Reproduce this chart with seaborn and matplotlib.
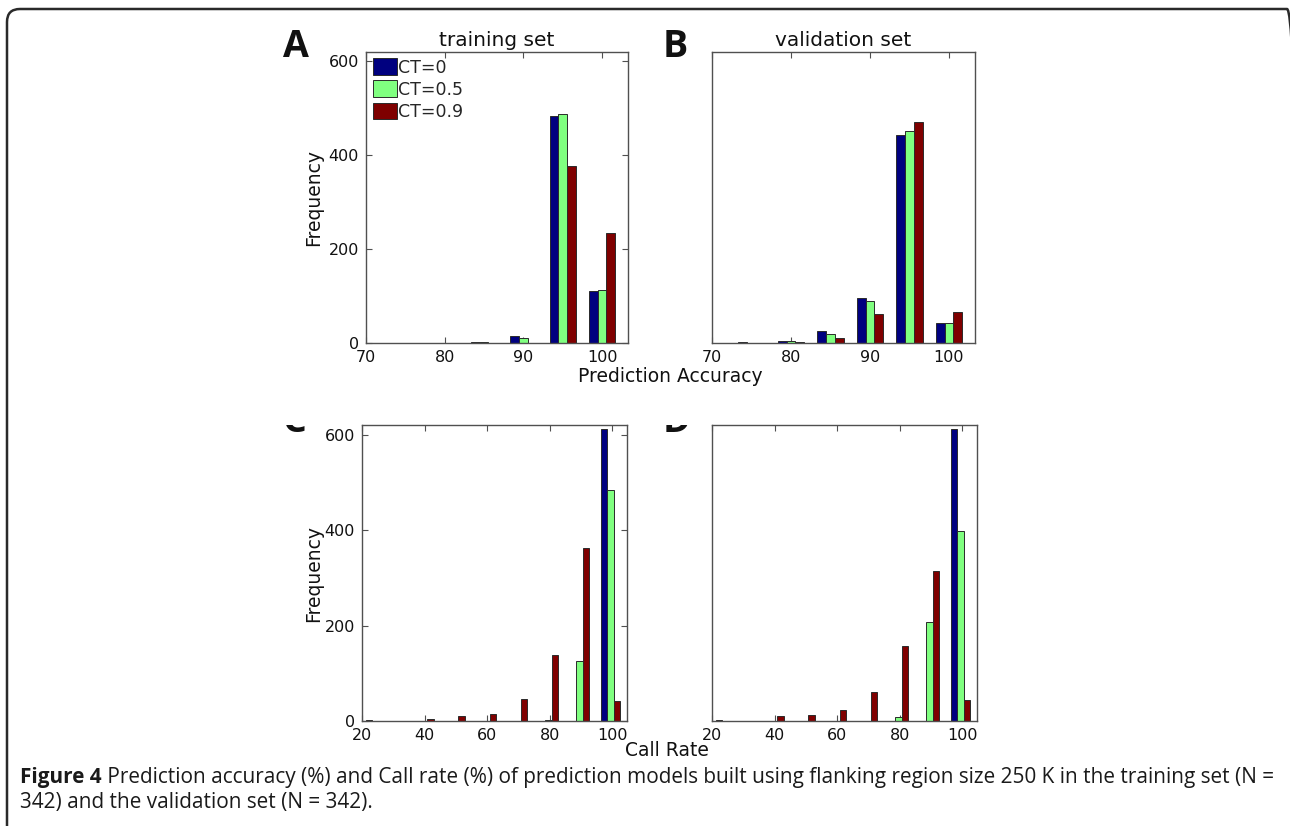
import numpy as np
import pandas as pd
import matplotlib
matplotlib.use("Agg")
import matplotlib.pyplot as plt
import seaborn as sns
from matplotlib.patches import FancyBboxPatch
from matplotlib.transforms import IdentityTransform, Bbox, TransformedBbox

# ---------------- data ----------------
ct_levels = ["CT=0", "CT=0.5", "CT=0.9"]
ct_colors = ["#00007F", "#80FF80", "#7F0000"]

acc_bins = [75, 80, 85, 90, 95, 100]
acc_train_ct0 = [0, 0, 2, 15, 483, 110]
acc_train_ct05 = [0, 0, 2, 10, 487, 112]
acc_train_ct09 = [0, 0, 0, 0, 377, 234]
acc_valid_ct0 = [2, 5, 25, 95, 443, 43]
acc_valid_ct05 = [0, 4, 20, 90, 452, 43]
acc_valid_ct09 = [0, 3, 10, 62, 471, 66]

cr_bins = [20.1, 30.0, 39.9, 49.8, 59.8, 69.7, 79.6, 89.5, 99.4]
cr_train_ct0 = [0, 0, 0, 0, 0, 0, 0, 0, 611]
cr_train_ct05 = [0, 0, 0, 0, 0, 0, 3, 126, 484]
cr_train_ct09 = [2, 0, 5, 10, 15, 46, 138, 363, 41]
cr_valid_ct0 = [0, 0, 0, 0, 0, 0, 0, 0, 611]
cr_valid_ct05 = [0, 0, 0, 0, 0, 0, 8, 208, 398]
cr_valid_ct09 = [2, 0, 10, 13, 22, 61, 157, 315, 43]

acc_ticks = [70, 80, 90, 100]
cr_ticks = [20, 40, 60, 80, 100]
freq_ticks = [0, 200, 400, 600]

titles = ["training set", "validation set"]
caption_bold = "Figure 4"
caption_line1 = (" Prediction accuracy (%) and Call rate (%) of prediction models built using "
                 "flanking region size 250 K in the training set (N =")
caption_line2 = "342) and the validation set (N = 342)."


def panel_frame(bins, c0, c05, c09):
    return pd.DataFrame({
        "bin": np.tile(bins, 3),
        "count": np.concatenate([c0, c05, c09]),
        "CT": np.repeat(ct_levels, len(bins)),
    })


# ---------------- figure ----------------
sns.set_style("white")
plt.rcParams["font.family"] = ["DejaVu Sans"]

W, H = 1290, 826
fig = plt.figure(figsize=(W / 100, H / 100), dpi=100)


def rect(x0, y0, x1, y1):
    return [x0 / W, 1 - y1 / H, (x1 - x0) / W, (y1 - y0) / H]


axA = fig.add_axes(rect(366, 52, 628, 343))
axB = fig.add_axes(rect(712, 52, 975, 343))
axC = fig.add_axes(rect(362, 425, 627, 721))
axD = fig.add_axes(rect(712, 425, 977, 721))

panels = [
    (axA, panel_frame(acc_bins, acc_train_ct0, acc_train_ct05, acc_train_ct09), 0.667, True),
    (axB, panel_frame(acc_bins, acc_valid_ct0, acc_valid_ct05, acc_valid_ct09), 0.667, False),
    (axC, panel_frame(cr_bins, cr_train_ct0, cr_train_ct05, cr_train_ct09), 0.627, False),
    (axD, panel_frame(cr_bins, cr_valid_ct0, cr_valid_ct05, cr_valid_ct09), 0.627, False),
]

spine_col = "#505050"
for ax, df, w, leg in panels:
    sns.barplot(data=df, x="bin", y="count", hue="CT", hue_order=ct_levels,
                palette=ct_colors, native_scale=True, width=w, dodge=True,
                errorbar=None, saturation=1, edgecolor="#2a2a2a", linewidth=0.7,
                ax=ax, legend=leg)
    ax.set_xlabel("")
    ax.set_ylabel("")
    ax.set_ylim(0, 620)
    for s in ax.spines.values():
        s.set_visible(True)
        s.set_color(spine_col)
        s.set_linewidth(1.0)
    ax.tick_params(direction="in", length=4, width=0.8, color=spine_col,
                   labelsize=11.5, top=True, bottom=True, labelcolor="#111111")
    ax.tick_params(axis="x", pad=5)

for ax in (axA, axB):
    ax.set_xlim(70, 103.3)
    ax.set_xticks(acc_ticks)
    ax.set_xticklabels([str(t) for t in acc_ticks])
for ax in (axC, axD):
    ax.set_xlim(20, 104.7)
    ax.set_xticks(cr_ticks)
    ax.set_xticklabels([str(t) for t in cr_ticks])

for ax in (axA, axC):
    ax.set_yticks(freq_ticks)
    ax.set_yticklabels([str(t) for t in freq_ticks])
    ax.tick_params(axis="y", left=True, right=True, pad=5)
    ax.set_ylabel("Frequency", fontsize=13.5, color="#111111")
for ax in (axB, axD):
    ax.set_yticks(freq_ticks)
    ax.tick_params(axis="y", left=False, right=False, labelleft=False)

axA.yaxis.set_label_coords((323 - 366) / 262, 0.5)
axC.yaxis.set_label_coords((323 - 362) / 265, 0.5)

axA.set_title(titles[0], fontsize=14.5, pad=4, color="#111111")
axB.set_title(titles[1], fontsize=14.5, pad=4, color="#111111")

# legend
old = axA.get_legend()
handles = old.legend_handles
labels = [t.get_text() for t in old.get_texts()]
old.remove()
axA.legend(handles, labels, loc="upper left", bbox_to_anchor=(0.027, 0.978),
           frameon=False, fontsize=12.5, handlelength=1.35, handleheight=1.1,
           labelspacing=0.22, handletextpad=0.1, borderpad=0, borderaxespad=0)

# shared axis labels
fig.text(670 / W, 1 - 376 / H, "Prediction Accuracy", ha="center", va="center",
         fontsize=13.5, color="#111111")
fig.text(667 / W, 1 - 750 / H, "Call Rate", ha="center", va="center",
         fontsize=13.5, color="#111111")

# panel letters
letter_kw = dict(fontsize=27, weight="bold", family="Open Sans", va="baseline",
                 ha="left", color="#111111")
fig.text(283 / W, 1 - 57 / H, "A", **letter_kw)
fig.text(663 / W, 1 - 57 / H, "B", **letter_kw)
clip = TransformedBbox(Bbox([[0, 0], [W, H - 425]]), IdentityTransform())
for x, s in ((283, "C"), (663, "D")):
    t = fig.text(x / W, 1 - 432 / H, s, **letter_kw)
    t.set_clip_box(clip)
    t.set_clip_on(True)

# border
border = FancyBboxPatch((7, -40), 1300 - 7, (H - 9) + 40,
                        boxstyle="round,pad=0,rounding_size=13",
                        transform=IdentityTransform(), fill=False,
                        lw=1.8, ec="#2a2a2a")
fig.add_artist(border)

# caption
renderer = fig.canvas.get_renderer()
cap_size = 11.5
cap_kw = dict(transform=IdentityTransform(), family="Open Sans", va="baseline",
              ha="left", color="#1a1a1a")
t1 = fig.text(20, H - 783, caption_bold, fontsize=cap_size, weight="bold", **cap_kw)
t2 = fig.text(0, H - 783, caption_line1, fontsize=cap_size, **cap_kw)
w1 = t1.get_window_extent(renderer).width
w2 = t2.get_window_extent(renderer).width
scale = (1276 - 20) / (w1 + w2)
cap_size *= scale
t1.set_fontsize(cap_size)
t2.set_fontsize(cap_size)
w1 = t1.get_window_extent(renderer).width
t2.set_x(20 + w1)
fig.text(20, H - 808, caption_line2, fontsize=cap_size, **cap_kw)

fig.savefig("out.png", dpi=100)
